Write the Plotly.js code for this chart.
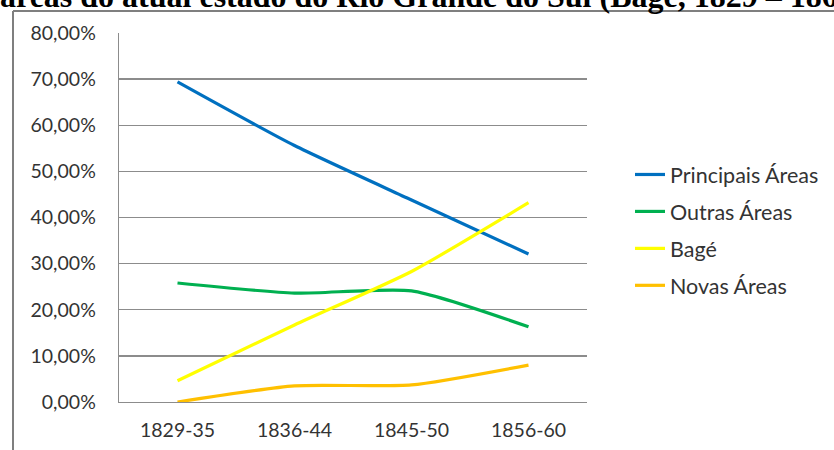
<!DOCTYPE html>
<html>
<head>
<meta charset="utf-8">
<script src="https://cdn.plot.ly/plotly-3.0.1.min.js"></script>
<style>
  html, body { margin: 0; padding: 0; background: #fff; }
  #chart { width: 834px; height: 450px; }
</style>
</head>
<body>
<div id="chart"></div>
<script>
const categories = ["1829-35", "1836-44", "1845-50", "1856-60"];
const seriesNames = ["Principais Áreas", "Outras Áreas", "Bagé", "Novas Áreas"];
const principais = [0.694, 0.556, 0.438, 0.321];
const outras = [0.258, 0.236, 0.241, 0.163];
const bage = [0.046, 0.167, 0.283, 0.432];
const novas = [0.000, 0.035, 0.037, 0.080];
const seriesColors = ["#0070C0", "#00B050", "#FFFF00", "#FFC000"];
const titleText = "áreas do atual estado do Rio Grande do Sul (Bagé, 1829 – 1860)";
const yTickVals = [0, 0.1, 0.2, 0.3, 0.4, 0.5, 0.6, 0.7, 0.8];

const W = 834, H = 450;
const margin = { l: 119, r: 247, t: 33, b: 48, pad: 0 };
const pw = W - margin.l - margin.r;
const ph = H - margin.t - margin.b;
const px2x = (px) => (px - margin.l) / pw;
const py2y = (py) => (H - margin.b - py) / ph;

const allSeries = [principais, outras, bage, novas];
const traces = allSeries.map((vals, i) => ({
  type: "scatter",
  mode: "lines",
  x: categories,
  y: vals,
  name: seriesNames[i],
  legendgroup: "g" + i,
  line: { color: seriesColors[i], width: 3.2, shape: "spline", smoothing: 0.6 },
  hoverinfo: "skip"
}));

const tickFont = { family: "Lato, 'Open Sans', sans-serif", size: 19.5, color: "#333" };
const legendFont = { family: "Lato, 'Open Sans', sans-serif", size: 21.5, color: "#333" };

const layout = {
  width: W, height: H,
  margin: margin,
  paper_bgcolor: "#fff",
  plot_bgcolor: "#fff",
  separators: ",.",
  font: tickFont,
  showlegend: true,
  legend: {
    xref: "container", yref: "container",
    x: 630 / W, y: 1 - 154 / H,
    xanchor: "left", yanchor: "top",
    traceorder: "grouped",
    tracegroupgap: 6,
    font: legendFont,
    bgcolor: "rgba(0,0,0,0)",
    borderwidth: 0
  },
  xaxis: {
    type: "category",
    range: [-0.5, 3.5],
    showgrid: false,
    zeroline: false,
    showline: true,
    linecolor: "#8c8c8c",
    linewidth: 1.3,
    ticks: "",
    ticklabelstandoff: 10,
    tickfont: tickFont,
    fixedrange: true
  },
  yaxis: {
    range: [0, 0.8],
    tickvals: yTickVals,
    tickformat: ".2%",
    showgrid: true,
    gridcolor: "#8c8c8c",
    gridwidth: 1.3,
    zeroline: false,
    showline: true,
    linecolor: "#8c8c8c",
    linewidth: 1.3,
    ticks: "",
    ticklabelstandoff: 18,
    tickfont: tickFont,
    fixedrange: true
  },
  shapes: [
    { type: "line", xref: "paper", yref: "paper",
      x0: px2x(13), x1: px2x(13), y0: py2y(11), y1: py2y(460),
      line: { color: "#7f7f7f", width: 2 } },
    { type: "line", xref: "paper", yref: "paper",
      x0: px2x(13), x1: px2x(840), y0: py2y(11), y1: py2y(11),
      line: { color: "#7f7f7f", width: 2 } }
  ],
  annotations: [
    { xref: "paper", yref: "paper",
      x: px2x(-2), y: py2y(16),
      xanchor: "left", yanchor: "bottom",
      showarrow: false,
      text: "<b>" + titleText + "</b>",
      font: { family: "'Liberation Serif', 'Times New Roman', serif", size: 32, color: "#000" } }
  ]
};

Plotly.newPlot("chart", traces, layout, { displayModeBar: false, staticPlot: true });
</script>
</body>
</html>
